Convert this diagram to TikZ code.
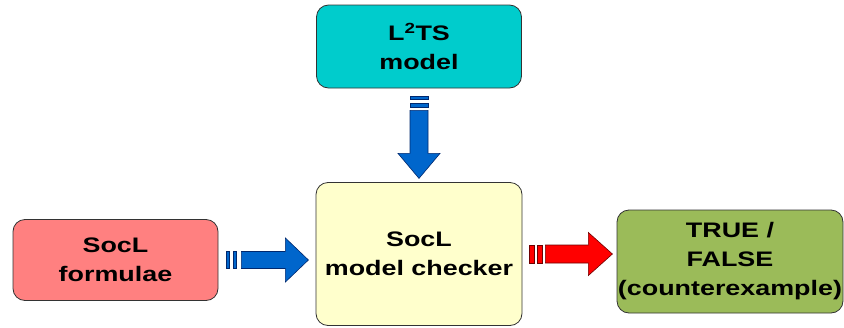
\documentclass[tikz,border=0pt]{standalone}
\usepackage{fontspec}
\setmainfont[FakeStretch=1.28]{Liberation Sans}
\begin{document}
\begin{tikzpicture}[x=1pt,y=-1pt,
  box/.style={draw=black!80, line width=0.8pt, rounded corners=12pt, inner sep=0pt,
    align=center, font=\fontsize{21}{29}\selectfont\bfseries, text=black},
  bluearrow/.style={fill={rgb,255:red,0;green,102;blue,204}, draw={rgb,255:red,0;green,40;blue,110}, line width=0.6pt},
  redarrow/.style={fill={rgb,255:red,255;green,0;blue,0}, draw={rgb,255:red,110;green,0;blue,0}, line width=0.6pt}]
\useasboundingbox (0,0) rectangle (844,327);
\fill[white] (0,0) rectangle (844,327);

% boxes
\node[box, fill={rgb,255:red,0;green,204;blue,204}, minimum width=205pt, minimum height=83pt] (lts) at (419,46.5) {L\textsuperscript{2}TS\\model};
\node[box, fill={rgb,255:red,255;green,255;blue,204}, minimum width=206pt, minimum height=143pt] (mc) at (419,254) {SocL\\model checker};
\node[box, fill={rgb,255:red,255;green,128;blue,128}, minimum width=205pt, minimum height=81pt] (fl) at (115.5,260) {SocL\\formulae};
\node[box, fill={rgb,255:red,155;green,187;blue,89}, minimum width=226pt, minimum height=103pt] (res) at (730,261.5) {TRUE /\\FALSE\\(counterexample)};

% block arrow from the model down into the checker
\begin{scope}[shift={(lts.south)}]
  \path[bluearrow] (-9,8) rectangle (9,11);
  \path[bluearrow] (-9,15) rectangle (9,19);
  \path[bluearrow] (-9,22) -- (9,22) -- (9,65) -- (21,65) -- (0,90) -- (-21,65) -- (-9,65) -- cycle;
\end{scope}

% block arrow from the formulae into the checker
\begin{scope}[shift={(fl.east)}]
  \path[bluearrow] (8,-8.5) rectangle (11,8.5);
  \path[bluearrow] (15,-8.5) rectangle (18,8.5);
  \path[bluearrow] (23,-8.5) -- (67,-8.5) -- (67,-22) -- (90,0) -- (67,22) -- (67,8.5) -- (23,8.5) -- cycle;
\end{scope}

% block arrow from the checker to the result
\begin{scope}[shift={(mc.east)}]
  \path[redarrow] (7,-9) rectangle (12,9);
  \path[redarrow] (15,-9) rectangle (20,9);
  \path[redarrow] (23,-9) -- (66,-9) -- (66,-21.5) -- (90,0) -- (66,21.5) -- (66,9) -- (23,9) -- cycle;
\end{scope}
\end{tikzpicture}
\end{document}
